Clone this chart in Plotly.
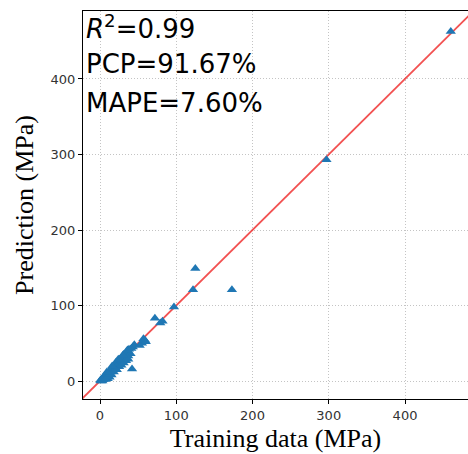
import plotly.graph_objects as go

# Measured strength vs. model prediction on the training set (MPa)
train_actual = [0.5, 1, 1.5, 2, 2.5, 3, 3, 4, 4.5, 5, 5, 6, 6.5, 7, 8, 8.5, 9, 10, 10,
                11, 12, 12.5, 13, 14, 15, 15, 16, 17, 18, 19, 20, 20, 21, 22, 23, 24,
                25, 26, 27, 28, 29, 30, 31, 32, 33, 34, 35, 36, 37, 38, 40, 42, 43,
                45, 52, 55, 57, 59, 60, 72, 79, 82, 97, 122, 125, 173, 297, 460,
                7, 11, 14, 18, 22, 25, 28, 31, 34, 37, 9, 16, 24, 30, 36, 41]
train_pred = [1, 0, 2, 1, 3, 2, 0, 4, 2, 5, 3, 6, 4, 8, 7, 5, 10, 9, 3,
              12, 10, 5, 14, 12, 16, 8, 14, 19, 16, 20, 17, 22, 25, 20, 26, 22,
              28, 24, 30, 26, 32, 28, 35, 30, 36, 31, 38, 40, 33, 42, 36, 16, 45,
              48, 47, 50, 56, 54, 52, 83, 77, 79, 98, 121, 149, 121, 293, 463,
              2, 6, 9, 12, 15, 19, 21, 24, 27, 29, 12, 20, 29, 34, 41, 43]

# Reference y = x line endpoints
ideal_line = [-40, 520]

x_range = [-22.3, 482.6]
y_range = [-23.8, 490]
tick_vals = [0, 100, 200, 300, 400]

metrics = ["<i>R</i><sup>2</sup>=0.99", "PCP=91.67%", "MAPE=7.60%"]

fig = go.Figure()
fig.add_trace(go.Scatter(
    x=ideal_line, y=ideal_line, mode="lines",
    line=dict(color="rgba(240,50,50,0.85)", width=1.8),
    showlegend=False, hoverinfo="skip"))
fig.add_trace(go.Scatter(
    x=train_actual, y=train_pred, mode="markers",
    marker=dict(symbol="triangle-up", size=9, color="#1f77b4"),
    showlegend=False))

axis_common = dict(
    showline=True, linecolor="black", linewidth=1,
    ticks="outside", ticklen=4, tickcolor="black", tickwidth=1,
    tickvals=tick_vals,
    tickfont=dict(family="DejaVu Sans", size=13, color="#333333"),
    showgrid=True, gridcolor="#c4c4c4", gridwidth=1, griddash="1px,2px",
    zeroline=False, automargin=False,
)

fig.update_layout(
    width=468, height=454,
    margin=dict(l=83, r=0, t=11, b=55),
    paper_bgcolor="white", plot_bgcolor="white",
    xaxis=dict(range=x_range, mirror=True,
               title=dict(text="Training data (MPa)", standoff=7,
                          font=dict(family="Liberation Serif", size=26, color="black")),
               **axis_common),
    yaxis=dict(range=y_range,
               title=dict(text="Prediction (MPa)", standoff=9,
                          font=dict(family="Liberation Serif", size=26, color="black")),
               **axis_common),
)

line_centers = [27, 64, 103]
for txt, yc in zip(metrics, line_centers):
    fig.add_annotation(
        text=txt, xref="paper", yref="paper",
        x=1 / 385, y=1 - (yc - 11) / 388,
        xanchor="left", yanchor="middle", showarrow=False,
        font=dict(family="DejaVu Sans", size=26, color="black"))

fig.write_html("out.html")
